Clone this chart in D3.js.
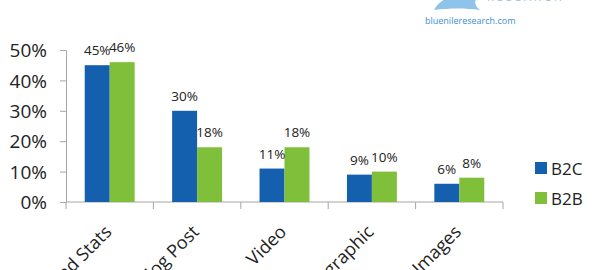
<!DOCTYPE html>
<html>
<head>
<meta charset="utf-8">
<script src="https://cdn.jsdelivr.net/npm/d3@7"></script>
<style>
  body { margin: 0; background: #fff; }
  svg { display: block; }
  text { font-family: "Open Sans", sans-serif; fill: #222; }
</style>
</head>
<body>
<div id="chart"></div>
<script>
const categories = ["Research and Stats", "Blog Post", "Video", "Infographic", "Images"];
const series = ["B2C", "B2B"];
const b2c = [45, 30, 11, 9, 6];
const b2b = [46, 18, 18, 10, 8];
const yTicks = [0, 10, 20, 30, 40, 50];

const width = 604, height = 270;
const colors = { B2C: "#1560ae", B2B: "#7fbf3a" };

const svg = d3.select("#chart").append("svg")
  .attr("width", width)
  .attr("height", height);

const x0 = d3.scaleBand().domain(categories).range([66, 503]).padding(0);
const x1 = d3.scaleBand().domain(series).range([0, x0.bandwidth()]).paddingInner(0).paddingOuter(0.75);
const y = d3.scaleLinear().domain([0, 50]).range([202, 50]);

const data = categories.map((c, i) => ({ cat: c, values: [{ key: "B2C", v: b2c[i] }, { key: "B2B", v: b2b[i] }] }));

// y axis
const yAxis = svg.append("g")
  .attr("transform", "translate(66,0)")
  .call(d3.axisLeft(y).tickValues(yTicks).tickFormat(d => d + "%").tickSize(6).tickPadding(13));
yAxis.selectAll("text").style("font-size", "19px").attr("dy", "0.35em");
yAxis.selectAll("line, path").attr("stroke", "#a6a6a6");

// x axis
const xAxis = svg.append("g").attr("transform", "translate(0,202)");
xAxis.append("line").attr("x1", 66).attr("x2", 503).attr("stroke", "#a6a6a6");
xAxis.selectAll("line.tick")
  .data(categories.concat([null]))
  .enter().append("line")
  .attr("class", "tick")
  .attr("x1", (d, i) => i < categories.length ? x0(d) : x0.range()[1])
  .attr("x2", (d, i) => i < categories.length ? x0(d) : x0.range()[1])
  .attr("y1", 0).attr("y2", 7)
  .attr("stroke", "#a6a6a6");

xAxis.selectAll("text.cat")
  .data(categories)
  .enter().append("text")
  .attr("class", "cat")
  .attr("text-anchor", "end")
  .style("font-size", "18px")
  .attr("transform", d => `translate(${x0(d) + x0.bandwidth() / 2 + 3},${31}) rotate(-45)`)
  .text(d => d);

// bars
const groups = svg.selectAll("g.grp")
  .data(data)
  .enter().append("g")
  .attr("class", "grp")
  .attr("transform", d => `translate(${x0(d.cat)},0)`);

groups.selectAll("rect")
  .data(d => d.values)
  .enter().append("rect")
  .attr("x", d => x1(d.key))
  .attr("y", d => y(d.v))
  .attr("width", x1.bandwidth())
  .attr("height", d => y(0) - y(d.v))
  .attr("fill", d => colors[d.key]);

groups.selectAll("text.val")
  .data(d => d.values)
  .enter().append("text")
  .attr("class", "val")
  .attr("text-anchor", "middle")
  .style("font-size", "13.5px")
  .attr("x", d => x1(d.key) + x1.bandwidth() / 2)
  .attr("y", d => y(d.v) - 10)
  .text(d => d.v + "%");

// legend
const legend = svg.append("g").attr("transform", "translate(535,162)");
series.forEach((s, i) => {
  legend.append("rect")
    .attr("x", 0).attr("y", i * 30)
    .attr("width", 12).attr("height", 12)
    .attr("fill", colors[s]);
  legend.append("text")
    .attr("x", 16).attr("y", i * 30 + 13)
    .style("font-size", "17px")
    .text(s);
});

// logo
const logo = svg.append("g");
logo.append("path")
  .attr("d", "M434,10 C438,2 446,-2 452,-4 L478,-4 C474,0 474,6 480,10 C466,8 450,8 434,10 Z")
  .attr("fill", "#8ec3ea");
logo.append("text")
  .attr("x", 487).attr("y", 1)
  .style("font-size", "11px")
  .style("fill", "#9bbfdd")
  .style("letter-spacing", "3px")
  .text("RESEARCH");
logo.append("text")
  .attr("x", 425).attr("y", 24)
  .style("font-size", "9px")
  .style("fill", "#3b8fd0")
  .text("bluenileresearch.com");
</script>
</body>
</html>
